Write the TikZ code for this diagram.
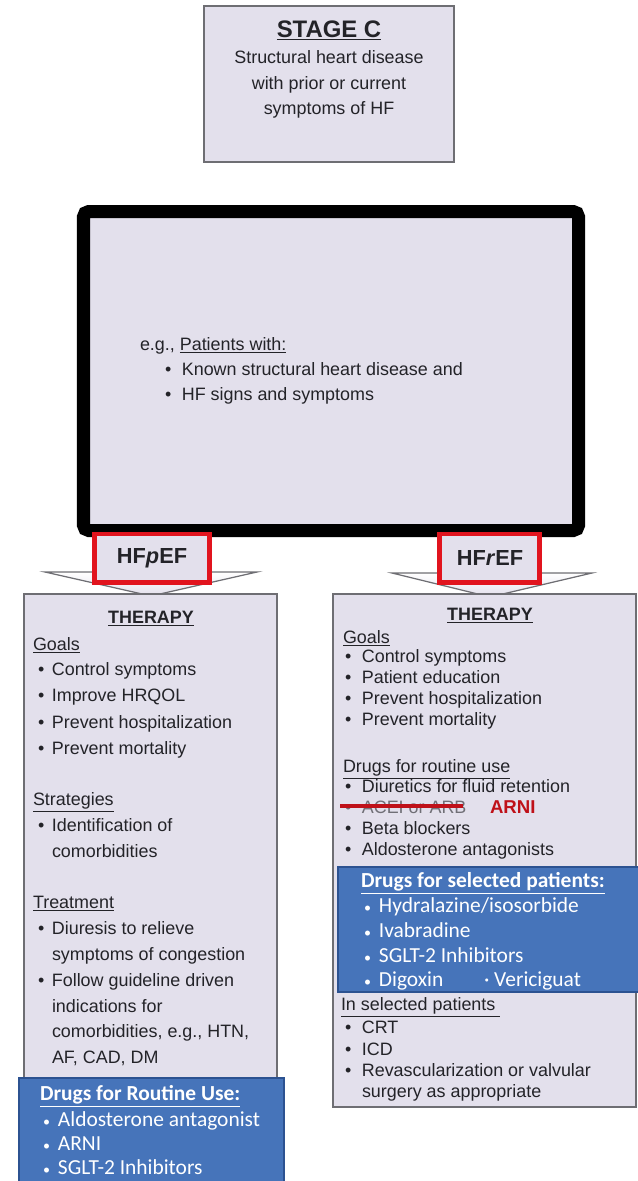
\documentclass[tikz,border=0pt]{standalone}
\usepackage{fontspec}
\setmainfont{Liberation Sans}
\newfontfamily\calib{Carlito}
\usepackage{xcolor}
\usetikzlibrary{positioning}

\definecolor{lav}{RGB}{227,224,236}
\definecolor{boxgray}{RGB}{110,110,115}
\definecolor{selblue}{RGB}{70,116,186}
\definecolor{selborder}{RGB}{44,82,145}
\definecolor{hfred}{RGB}{225,20,30}
\definecolor{txt}{RGB}{35,35,40}

\newcommand{\bul}[1]{\makebox[#1][l]{\textbullet}}
\newcommand{\sbul}[1]{\makebox[#1][l]{\fontsize{8pt}{8pt}\selectfont\textbullet}}

\begin{document}
\begin{tikzpicture}[
    x=0.02cm, y=-0.02cm,
    every node/.style={inner sep=0pt, outer sep=0pt, text=txt,
        font=\fontsize{10.2pt}{12pt}\selectfont},
    panel/.style={draw=boxgray, line width=0.9pt, fill=lav},
    line/.style={anchor=base west},
    mid/.style={anchor=base},
    head/.style={anchor=base, font=\fontsize{10.2pt}{12pt}\selectfont\bfseries},
    hflabel/.style={anchor=base, font=\fontsize{12.4pt}{14pt}\selectfont\bfseries},
    bluebox/.style={draw=selborder, line width=1.2pt, fill=selblue},
    blueline/.style={anchor=base west, text=white, font=\calib\fontsize{12.2pt}{14pt}\selectfont},
    bluehead/.style={anchor=base west, text=white, font=\calib\fontsize{12.2pt}{14pt}\selectfont\bfseries},
    wedge/.style={draw=boxgray, line width=0.7pt, top color=white, bottom color=lav},
    redbox/.style={draw=hfred, line width=2.8pt, fill=lav},
]
\useasboundingbox (0,0) rectangle (637,1181);

% stage C
\draw[panel] (204,6) rectangle (454,162);
\node[anchor=base, font=\fontsize{13.6pt}{16pt}\selectfont\bfseries] (stage) at (329,37) {\underline{STAGE C}};
\node[mid] (st1) at (329,63) {Structural heart disease};
\node[mid] (st2) at (329,89) {with prior or current};
\node[mid] (st3) at (329,114) {symptoms of HF};

% patients box
\draw[line width=7.4pt, fill=lav, rounded corners=3pt] (83.5,211.5) rectangle (578.5,530.5);
\node[line] (eg) at (140,350) {e.g., \underline{Patients with:}};
\node[line] (pt1) at (165,375) {\bul{9.6pt}Known structural heart disease and};
\node[line] (pt2) at (165,400) {\bul{9.6pt}HF signs and symptoms};

% arrows
\draw[wedge] (45,572) -- (257,572) -- (151,596) -- cycle;
\draw[wedge] (392,573) -- (592,573) -- (490,597) -- cycle;

% left therapy
\draw[panel] (24,594) rectangle (277,1085);
\node[head] (lth) at (151,623) {\underline{THERAPY}};
\node[line] (lgoal) at (33,650) {\underline{Goals}};
\foreach \yy/\tt [count=\i] in {675/Control symptoms, 701/Improve HRQOL,
    728/Prevent hospitalization, 754/Prevent mortality}
  \node[line] (lg\i) at (38,\yy) {\bul{7.9pt}\tt};
\node[line] (lstrat) at (33,805) {\underline{Strategies}};
\node[line] (ls1) at (38,831) {\bul{7.9pt}Identification of};
\node[line] (ls2) at (52,857) {comorbidities};
\node[line] (ltreat) at (33,908) {\underline{Treatment}};
\node[line] (lt1) at (38,934) {\bul{7.9pt}Diuresis to relieve};
\node[line] (lt2) at (52,960) {symptoms of congestion};
\node[line] (lt3) at (38,986) {\bul{7.9pt}Follow guideline driven};
\node[line] (lt4) at (52,1012) {indications for};
\node[line] (lt5) at (52,1037) {comorbidities, e.g., HTN,};
\node[line] (lt6) at (52,1063) {AF, CAD, DM};

\draw[bluebox] (19,1078) rectangle (284,1190);
\node[bluehead] (lblue) at (40,1100) {\underline{Drugs for Routine Use:}};
\foreach \yy/\tt [count=\i] in {1126/Aldosterone antagonist, 1150/ARNI, 1174/SGLT-2 Inhibitors}
  \node[blueline] (lb\i) at (43,\yy) {\sbul{8.5pt}\tt};

% right therapy
\draw[panel] (333,594) rectangle (636,1107);
\node[head] (rth) at (490,620) {\underline{THERAPY}};
\node[line] (rgoal) at (343,643) {\underline{Goals}};
\foreach \yy/\tt [count=\i] in {662/Control symptoms, 683/Patient education,
    704/Prevent hospitalization, 725/Prevent mortality}
  \node[line] (rg\i) at (345,\yy) {\bul{9.6pt}\tt};
\node[line] (rdrug) at (343,772) {\underline{Drugs for routine use}};
\node[line] (rd1) at (345,792) {\bul{9.6pt}Diuretics for fluid retention};
\node[line, text=txt!60!lav] (rd2) at (345,813) {\bul{9.6pt}ACEI or ARB};
\draw[hfred!85!black, line width=2.2pt] (340,806) -- (463,806);
\node[line, text=hfred!85!black, font=\fontsize{10.6pt}{12pt}\selectfont\bfseries] (arni) at (490,813) {ARNI};
\node[line] (rd3) at (345,834) {\bul{9.6pt}Beta blockers};
\node[line] (rd4) at (345,855) {\bul{9.6pt}Aldosterone antagonists};

\draw[bluebox] (338,867) rectangle (645,992);
\node[bluehead] (rblue) at (361,887) {\underline{Drugs for selected patients:}};
\foreach \yy/\tt [count=\i] in {912/{Hydralazine/isosorbide}, 937/Ivabradine, 962/SGLT-2 Inhibitors}
  \node[blueline] (rb\i) at (364,\yy) {\sbul{8.5pt}\tt};
\node[blueline] (rb4) at (364,986) {\sbul{8.5pt}Digoxin};
\node[blueline] (rb5) at (484,986) {\textperiodcentered\ Vericiguat};

\node[line] (rsel) at (341,1010) {\underline{In selected patients\ }};
\node[line] (rs1) at (345,1033) {\bul{9.6pt}CRT};
\node[line] (rs2) at (345,1055) {\bul{9.6pt}ICD};
\node[line] (rs3) at (345,1076) {\bul{9.6pt}Revascularization or valvular};
\node[line] (rs4) at (362,1097) {surgery as appropriate};

% HF type labels
\draw[redbox] (94.5,534) rectangle (209.5,582.5);
\node[hflabel] (hfp) at (152,563) {HF\textit{p}EF};
\draw[redbox] (439.5,534) rectangle (539.5,582.5);
\node[hflabel] (hfr) at (490,565) {HF\textit{r}EF};
\end{tikzpicture}
\end{document}
